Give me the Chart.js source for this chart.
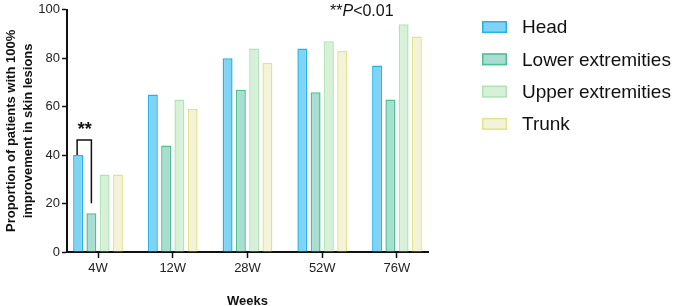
<!DOCTYPE html>
<html>
<head>
<meta charset="utf-8">
<script src="https://cdn.jsdelivr.net/npm/chart.js@4.4.1/dist/chart.umd.min.js"></script>
<style>
  html, body { margin: 0; padding: 0; background: #fff; }
  #wrap { width: 676px; height: 306px; position: relative; }
</style>
</head>
<body>
<div id="wrap"><canvas id="chart" width="676" height="306"></canvas></div>
<script>
// Data
const weeks = ['4W', '12W', '28W', '52W', '76W'];
const head = [40, 65, 80, 84, 77];
const lowerExt = [16, 44, 67, 66, 63];
const upperExt = [32, 63, 84, 87, 94];
const trunk = [32, 59, 78, 83, 89];
const yTicks = [0, 20, 40, 60, 80, 100];

const FONT = "'Liberation Sans', Arial, sans-serif";

const series = [
    { label: 'Head', values: head, fill: '#7fd3f4', line: '#24b2ea' },
    { label: 'Lower extremities', values: lowerExt, fill: '#a8ddd2', line: '#4fbf8c' },
    { label: 'Upper extremities', values: upperExt, fill: '#d7f0d8', line: '#b3e2b6' },
    { label: 'Trunk', values: trunk, fill: '#f3f3da', line: '#e3e38a' }
];

// extra drawing: significance bracket, p-value note and legend
const extras = {
    id: 'extras',
    afterDatasetsDraw(chart) {
        const ctx = chart.ctx;
        const b0 = chart.getDatasetMeta(0).data[0];
        const b1 = chart.getDatasetMeta(1).data[0];
        const topY = b0.y - 15;
        ctx.save();
        ctx.strokeStyle = '#111';
        ctx.lineWidth = 1.5;
        ctx.beginPath();
        ctx.moveTo(b0.x - 1, b0.y);
        ctx.lineTo(b0.x - 1, topY);
        ctx.lineTo(b1.x, topY);
        ctx.lineTo(b1.x, b1.y - 10);
        ctx.stroke();

        ctx.fillStyle = '#111';
        ctx.font = 'bold 18px ' + FONT;
        ctx.textAlign = 'center';
        ctx.textBaseline = 'middle';
        ctx.fillText('**', (b0.x + b1.x) / 2, topY - 10);

        // **P<0.01
        ctx.textAlign = 'left';
        ctx.font = '16px ' + FONT;
        let x = 330;
        const ty = 12;
        ctx.fillText('**', x, ty);
        x += ctx.measureText('**').width;
        ctx.font = 'italic 16px ' + FONT;
        ctx.fillText('P', x, ty);
        x += ctx.measureText('P').width;
        ctx.font = '16px ' + FONT;
        ctx.fillText('<0.01', x, ty);

        // legend
        ctx.font = '19px ' + FONT;
        chart.data.datasets.forEach((ds, i) => {
            const cy = 27 + i * 32.3;
            ctx.fillStyle = ds.backgroundColor;
            ctx.strokeStyle = ds.borderColor;
            ctx.lineWidth = 1.5;
            ctx.fillRect(482, cy - 6, 25, 12);
            ctx.strokeRect(482.75, cy - 5.25, 23.5, 10.5);
            ctx.fillStyle = '#111';
            ctx.fillText(ds.label, 522, cy + 1);
        });
        ctx.restore();
    }
};

new Chart(document.getElementById('chart'), {
    type: 'bar',
    data: {
        datasets: series.map(s => ({
            label: s.label,
            data: s.values.map((v, i) => ({ x: i + 1, y: v })),
            backgroundColor: s.fill,
            borderColor: s.line,
            borderWidth: 1.5,
            categoryPercentage: 0.71,
            barPercentage: 0.75
        }))
    },
    options: {
        responsive: false,
        animation: false,
        layout: { padding: { top: 8, right: 248, left: 0, bottom: 0 } },
        plugins: {
            legend: { display: false },
            tooltip: { enabled: false }
        },
        scales: {
            x: {
                type: 'linear',
                offset: false,
                min: 0.585,
                max: 5.415,
                afterBuildTicks: s => { s.ticks = weeks.map((w, i) => ({ value: i + 1 })); },
                afterFit: s => { s.height = 54; },
                grid: { offset: false, drawOnChartArea: false, color: '#111', tickLength: 6, tickWidth: 1.5 },
                border: { color: '#111', width: 2 },
                ticks: {
                    color: '#222',
                    font: { family: FONT, size: 13 },
                    padding: 3,
                    callback: v => weeks[v - 1] || ''
                },
                title: {
                    display: true,
                    text: 'Weeks',
                    color: '#111',
                    font: { family: FONT, size: 13, weight: 'bold' },
                    padding: { top: 18, bottom: -3 }
                }
            },
            y: {
                min: 0,
                max: 100,
                afterBuildTicks: s => { s.ticks = yTicks.map(v => ({ value: v })); },
                afterFit: s => { s.width = 67; },
                grid: { drawOnChartArea: false, color: '#111', tickLength: 5, tickWidth: 1.5 },
                border: { color: '#111', width: 2 },
                ticks: {
                    color: '#222',
                    font: { family: FONT, size: 13 },
                    padding: 2
                },
                title: {
                    display: true,
                    text: ['Proportion of patients with 100%', 'improvement in skin lesions'],
                    color: '#111',
                    font: { family: FONT, size: 13, weight: 'bold', lineHeight: 1.3 },
                    padding: { top: 3, bottom: 4 }
                }
            }
        }
    },
    plugins: [extras]
});
</script>
</body>
</html>
